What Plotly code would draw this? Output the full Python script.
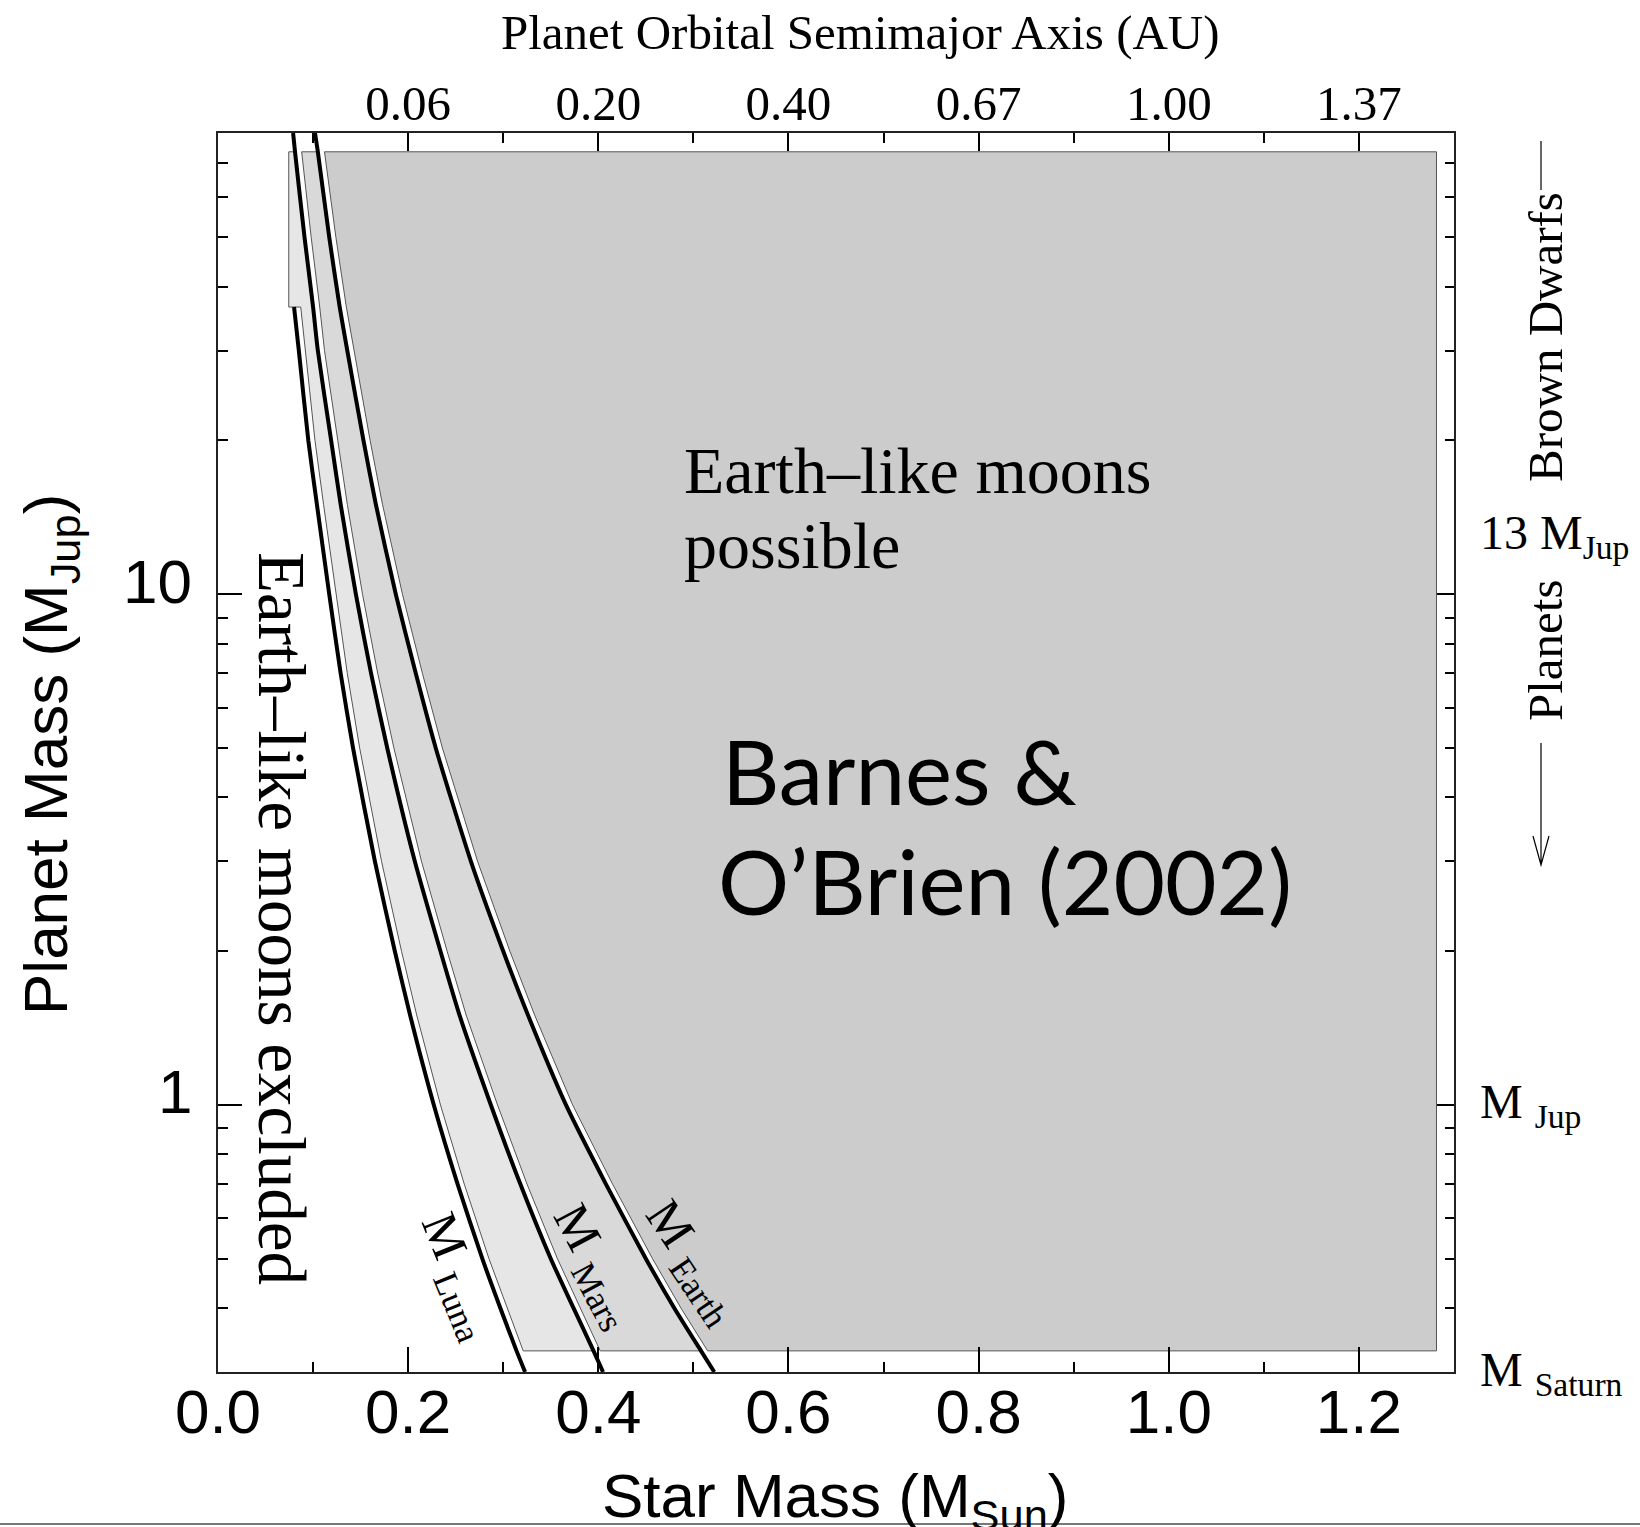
import math
import plotly.graph_objects as go

# ---------------- data ----------------
planet_mass = [0.3, 0.33, 0.4, 0.5, 0.7, 1, 1.5, 2, 3, 5, 7, 10, 15, 20, 30, 36.5, 50, 73.5, 80]
star_mass_luna = [0.323, 0.314, 0.297, 0.278, 0.252, 0.227, 0.202, 0.186, 0.165, 0.142, 0.129,
                  0.117, 0.104, 0.095, 0.085, 0.080, None, None, None]
star_mass_mars = [0.405, 0.395, 0.374, 0.350, 0.318, 0.287, 0.254, 0.234, 0.207, 0.178, 0.161,
                  0.145, 0.129, 0.119, 0.105, 0.100, 0.091, 0.081, 0.079]
star_mass_earth = [0.522, 0.508, 0.480, 0.450, 0.408, 0.366, 0.326, 0.300, 0.266, 0.229, 0.208,
                   0.187, 0.166, 0.153, 0.136, 0.128, 0.117, 0.105, 0.102]

# shaded-region limits
region_top = 73.5
region_bottom = 0.33
region_right = 1.2816
excluded_left = 0.0744

# axes
x_range = [0.0, 1.3]
y_range = [0.3, 80.0]
x_major = [0.0, 0.2, 0.4, 0.6, 0.8, 1.0, 1.2]
x_major_text = ["0.0", "0.2", "0.4", "0.6", "0.8", "1.0", "1.2"]
x_minor = [0.1, 0.3, 0.5, 0.7, 0.9, 1.1]
au_tick_vals = [0.2, 0.4, 0.6, 0.8, 1.0, 1.2]
au_tick_text = ["0.06", "0.20", "0.40", "0.67", "1.00", "1.37"]
y_major = [1, 10]
y_major_text = ["1", "10"]
y_minor = [0.3, 0.4, 0.5, 0.6, 0.7, 0.8, 0.9, 2, 3, 4, 5, 6, 7, 8, 9, 20, 30, 40, 50, 60, 70, 80]

# reference mass levels for right-hand labels
right_labels = ["13 M<sub>Jup</sub>", "M <sub>Jup</sub>", "M <sub>Saturn</sub>"]
right_label_mass = [13, 1, 0.299]

# ---------------- style ----------------
SERIF = "Liberation Serif"
SANS = "Liberation Sans"
GILL = "Lato"
W, H = 1640, 1527
ML, MT, PW, PH = 218, 133, 1236, 1239
MR = W - ML - PW
MB = H - MT - PH
GAP = 0.007  # white gap on the right of each boundary curve
FILL_LIGHT, FILL_MID, FILL_DARK = "#e6e6e6", "#d9d9d9", "#cccccc"
EDGE = "#555555"
LOGR = [math.log10(y_range[0]), math.log10(y_range[1])]


def px(xp):
    return (xp - ML) / PW


def py(yp):
    return (MT + PH - yp) / PH


def ymass_paper(m):
    return (math.log10(m) - LOGR[0]) / (LOGR[1] - LOGR[0])


def rows(curve):
    return [(m, s) for m, s in zip(planet_mass, curve)
            if s is not None and region_bottom <= m <= region_top]


luna_r = rows(star_mass_luna)
mars_r = rows(star_mass_mars)
earth_r = rows(star_mass_earth)

# light band: Luna -> Mars (with vertical left edge above the Luna curve)
lx = [excluded_left, excluded_left]
ly = [region_top, luna_r[-1][0]]
for m, s in reversed(luna_r):
    lx.append(s + GAP)
    ly.append(m)
for m, s in mars_r:
    lx.append(s)
    ly.append(m)
lx.append(excluded_left)
ly.append(region_top)

# mid band: Mars -> Earth
mx, my = [], []
for m, s in reversed(mars_r):
    mx.append(s + GAP)
    my.append(m)
for m, s in earth_r:
    mx.append(s)
    my.append(m)
mx.append(mx[0])
my.append(my[0])

# dark region: right of Earth
dx, dy = [], []
for m, s in reversed(earth_r):
    dx.append(s + GAP)
    dy.append(m)
dx += [region_right, region_right, dx[0]]
dy += [region_bottom, region_top, dy[0]]

fig = go.Figure()
for xs, ys, col in [(lx, ly, FILL_LIGHT), (mx, my, FILL_MID), (dx, dy, FILL_DARK)]:
    fig.add_trace(go.Scatter(x=xs, y=ys, mode="lines", fill="toself", fillcolor=col,
                             line=dict(color=EDGE, width=1), hoverinfo="skip",
                             showlegend=False))

for curve in [star_mass_luna, star_mass_mars, star_mass_earth]:
    xs = [s for s in curve if s is not None]
    ys = [m for m, s in zip(planet_mass, curve) if s is not None]
    fig.add_trace(go.Scatter(x=xs, y=ys, mode="lines",
                             line=dict(color="black", width=4, shape="spline", smoothing=0.6),
                             hoverinfo="skip", showlegend=False))

# dummy traces so the top / right axes are drawn
fig.add_trace(go.Scatter(x=[None], y=[None], xaxis="x2", yaxis="y", showlegend=False))
fig.add_trace(go.Scatter(x=[None], y=[None], xaxis="x", yaxis="y2", showlegend=False))

axis_common = dict(showgrid=False, zeroline=False, showline=True, linecolor="#222222",
                   linewidth=2, ticks="inside", tickcolor="black", tickwidth=1.5)

fig.update_layout(
    width=W, height=H,
    margin=dict(l=ML, r=MR, t=MT, b=MB, pad=0),
    paper_bgcolor="white", plot_bgcolor="white",
    showlegend=False,
    xaxis=dict(range=x_range, tickmode="array", tickvals=x_major, ticktext=x_major_text,
               ticklen=25, tickfont=dict(family=SANS, size=62, color="black"),
               ticklabelstandoff=-15,
               minor=dict(tickmode="array", tickvals=x_minor, ticks="inside", ticklen=10,
                          tickcolor="black", tickwidth=1.5),
               **axis_common),
    xaxis2=dict(range=x_range, overlaying="x", side="top", anchor="y", tickmode="array",
                tickvals=au_tick_vals, ticktext=au_tick_text, ticklen=18,
                tickfont=dict(family=SERIF, size=49, color="black"), ticklabelstandoff=-9,
                minor=dict(tickmode="array", tickvals=x_minor, ticks="inside", ticklen=10,
                           tickcolor="black", tickwidth=1.5),
                **axis_common),
    yaxis=dict(type="log", range=LOGR, tickmode="array", tickvals=y_major,
               showticklabels=False, ticklen=24,
               minor=dict(tickmode="array", tickvals=y_minor, ticks="inside", ticklen=10,
                          tickcolor="black", tickwidth=1.5),
               **axis_common),
    yaxis2=dict(type="log", range=LOGR, overlaying="y", side="right", anchor="x",
                tickmode="array", tickvals=y_major, showticklabels=False, ticklen=17,
                minor=dict(tickmode="array", tickvals=y_minor, ticks="inside", ticklen=9,
                           tickcolor="black", tickwidth=1.5),
                **axis_common),
)

ann = []


def add_text(text, xp, yp, family, size, angle=0, xanchor="center", yanchor="middle"):
    ann.append(dict(text=text, x=px(xp), y=py(yp), xref="paper", yref="paper",
                    showarrow=False, textangle=angle, xanchor=xanchor, yanchor=yanchor,
                    font=dict(family=family, size=size, color="black")))


# left axis tick labels (sit slightly above their ticks, as in the reference)
for val, txt in zip(y_major, y_major_text):
    ann.append(dict(text=txt, x=px(194), y=ymass_paper(val), xref="paper", yref="paper",
                    showarrow=False, xanchor="right", yanchor="middle", yshift=13,
                    font=dict(family=SANS, size=62, color="black")))

add_text("Planet Orbital Semimajor Axis (AU)", 860, 32, SERIF, 49)
add_text("Star Mass (M<sub>Sun</sub>)", 835, 1500, SANS, 62)
add_text("Planet Mass (M<sub>Jup</sub>)", 50, 755, SANS, 62, angle=-90)
add_text("Earth\u2013like moons", 682, 471, SERIF, 66, xanchor="left")
add_text("possible", 682, 545, SERIF, 66, xanchor="left")
add_text("Barnes &amp;", 720, 770, GILL, 89, xanchor="left")
add_text("O\u2019Brien (2002)", 716, 880, GILL, 89, xanchor="left")
add_text("Earth\u2013like moons excluded", 282, 918, SERIF, 67, angle=90)
add_text("Brown Dwarfs", 1545, 337, SERIF, 49, angle=-90)
add_text("Planets", 1545, 650, SERIF, 49, angle=-90)
add_text("M <sub>Luna</sub>", 457, 1276, SERIF, 50, angle=68)
add_text("M <sub>Mars</sub>", 594, 1266, SERIF, 50, angle=62)
add_text("M <sub>Earth</sub>", 692, 1262, SERIF, 50, angle=56)

# right-hand mass labels tied to planet-mass levels
for txt, m in zip(right_labels, right_label_mass):
    ann.append(dict(text=txt, x=px(1478), y=ymass_paper(m), xref="paper", yref="paper",
                    showarrow=False, xanchor="left", yanchor="middle",
                    font=dict(family=SERIF, size=48, color="black")))

fig.update_layout(annotations=ann)

shapes = [
    # dash above "Brown Dwarfs"
    dict(type="line", xref="paper", yref="paper", x0=px(1541), x1=px(1541), y0=py(141), y1=py(190),
         line=dict(color="black", width=1.2)),
    # arrow below "Planets"
    dict(type="path", xref="paper", yref="paper",
         path=f"M {px(1541)},{py(743)} L {px(1541)},{py(865)} M {px(1533)},{py(836)} "
              f"L {px(1541)},{py(865)} L {px(1549)},{py(836)}",
         line=dict(color="black", width=1.2)),
    # thin border line at the bottom of the picture
    dict(type="line", xref="paper", yref="paper", x0=px(0), x1=px(W), y0=py(1524), y1=py(1524),
         line=dict(color="#777777", width=2)),
]
fig.update_layout(shapes=shapes)

fig.write_html("out.html")
